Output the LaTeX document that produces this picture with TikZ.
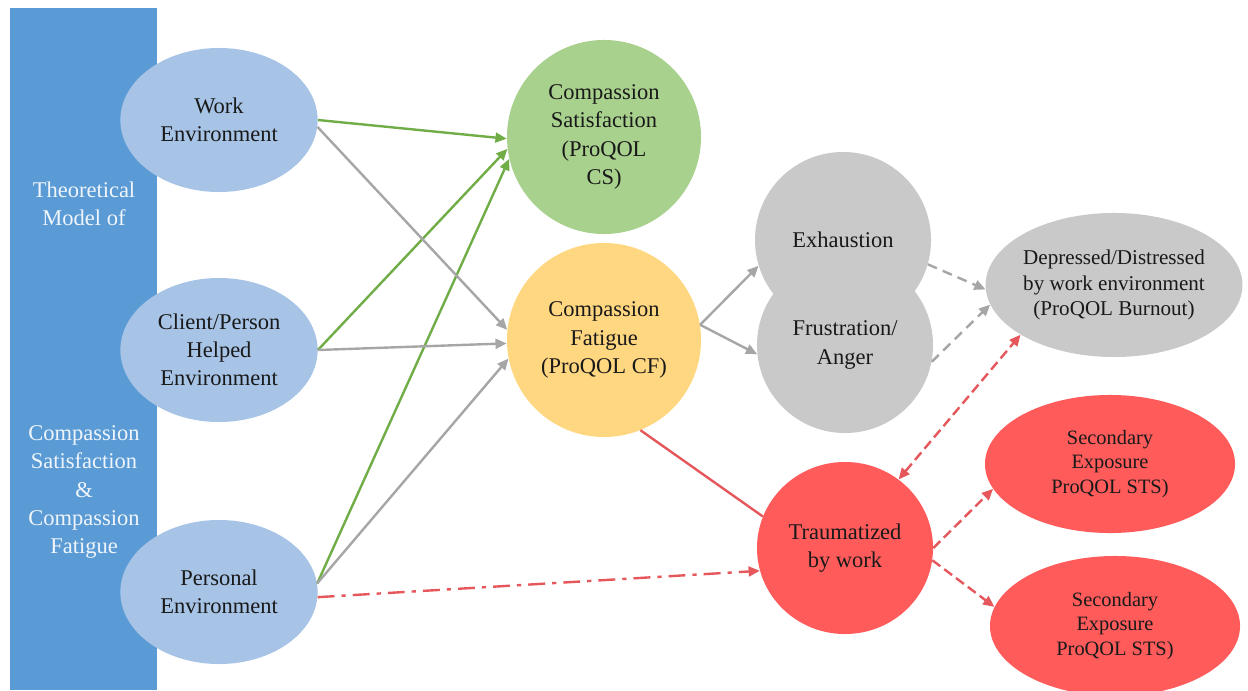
\documentclass[tikz,border=0pt]{standalone}
\usepackage{fontspec}
\setmainfont{Liberation Serif}
\usepackage{tikz}
\usetikzlibrary{arrows.meta}
\usetikzlibrary{shapes.geometric}
\usetikzlibrary{positioning}
\definecolor{barblue}{HTML}{5B9BD5}
\definecolor{lblue}{HTML}{A7C4E7}
\definecolor{lgreen}{HTML}{A9D18E}
\definecolor{lorange}{HTML}{FFD780}
\definecolor{lgray}{HTML}{C9C9C9}
\definecolor{lred}{HTML}{FF5B5B}
\definecolor{dgreen}{HTML}{70AD47}
\definecolor{dgray}{HTML}{A6A6A6}
\definecolor{dred}{HTML}{E5575A}
\tikzset{oval/.style = {ellipse, inner sep = 0, align = center, text = black!90, font = \fontsize{16}{20}\selectfont}}
\tikzset{bartxt/.style = {align = center, text = white!90!barblue, font = \fontsize{16}{20}\selectfont}}
\tikzset{arr/.style = {line width = 1.7pt, -{Triangle[length = 8pt, width = 7pt]}}}
\tikzset{graydash/.style = {dash pattern = on 7pt off 4.5pt}}
\tikzset{reddash/.style = {dash pattern = on 7pt off 3.5pt}}
\tikzset{reddashdot/.style = {dash pattern = on 12pt off 5pt on 3pt off 5pt}}

\begin{document}
\begin{tikzpicture}[x = 0.025cm, y = -0.025cm]
      \fill [white] (0, 0) rectangle (1248, 690);
      \useasboundingbox (0, 0) rectangle (1248, 690);

      \fill [barblue] (10, 8) rectangle (157, 690);
      \node [bartxt] (bartop) at (84, 204) {Theoretical\\Model of};
      \node [bartxt] (barbot) at (84, 492) {Compassion\\Satisfaction\\\&\\Compassion\\Fatigue};

      \node [oval, fill = lblue, minimum width = 4.93cm, minimum height = 3.6cm] (work) at (219, 120) {Work\\Environment};
      \node [oval, fill = lblue, minimum width = 4.93cm, minimum height = 3.6cm] (client) at (219, 350) {Client/Person\\Helped\\Environment};
      \node [oval, fill = lblue, minimum width = 4.93cm, minimum height = 3.6cm] (personal) at (219, 592) {Personal\\Environment};

      \node [oval, fill = lgreen, minimum size = 4.85cm] (cs) at (604, 137) {Compassion\\Satisfaction\\(ProQOL\\CS)};
      \node [oval, fill = lorange, minimum size = 4.85cm] (cf) at (604, 340) {Compassion\\Fatigue\\(ProQOL CF)};

      \node [oval, fill = lgray, minimum size = 4.4cm] (exh) at (843, 240) {Exhaustion};
      \node [oval, fill = lgray, minimum size = 4.4cm] (frus) at (845, 345) {Frustration/\\Anger};

      \node [oval, fill = lgray, minimum width = 6.2cm, minimum height = 3.6cm, font = \fontsize{15}{18}\selectfont] (dep) at (1114, 285) {Depressed/Distressed\\by work environment\\(ProQOL Burnout)};
      \node [oval, fill = lred, minimum width = 4.4cm, minimum height = 4.3cm] (trauma) at (845, 548) {Traumatized\\by work};
      \node [oval, fill = lred, minimum width = 6.25cm, minimum height = 3.45cm, font = \fontsize{14.5}{17.5}\selectfont] (sec1) at (1110, 464) {Secondary\\Exposure\\ProQOL STS)};
      \node [oval, fill = lred, minimum width = 6.25cm, minimum height = 3.5cm, font = \fontsize{14.5}{17.5}\selectfont] (sec2) at (1115, 626) {Secondary\\Exposure\\ProQOL STS)};

      \draw [arr, dgreen] (work.east) -- (cs.181);
      \draw [arr, dgreen] (client.east) -- (cs.187);
      \draw [arr, dgreen] (personal.5) -- (cs.193);
      \draw [arr, dgray] (work.-4) -- (cf.174);
      \draw [arr, dgray] (client.east) -- (cf.182);
      \draw [arr, dgray] (personal.5) -- (cf.191);

      \draw [arr, dred, reddashdot] (personal.-3) -- (trauma.195);
      \draw [line width = 1.7pt, dred] (cf.-68) -- (trauma.159);

      \draw [arr, dgray] (cf.9) -- (exh.197);
      \draw [arr, dgray] (cf.9) -- (frus.186);
      \draw [arr, dgray, graydash] (exh.-16) -- (dep.182);
      \draw [arr, dgray, graydash] (frus.-11) -- (dep.189);

      \draw [arr, dred, reddash, {Triangle[length = 8pt, width = 7pt]}-{Triangle[length = 8pt, width = 7pt]}] (trauma.52) -- (dep.208);
      \draw [arr, dred, reddash] (trauma.0) -- (sec1.192);
      \draw [arr, dred, reddash] (trauma.-8) -- (sec2.171);
    \end{tikzpicture}
\end{document}
